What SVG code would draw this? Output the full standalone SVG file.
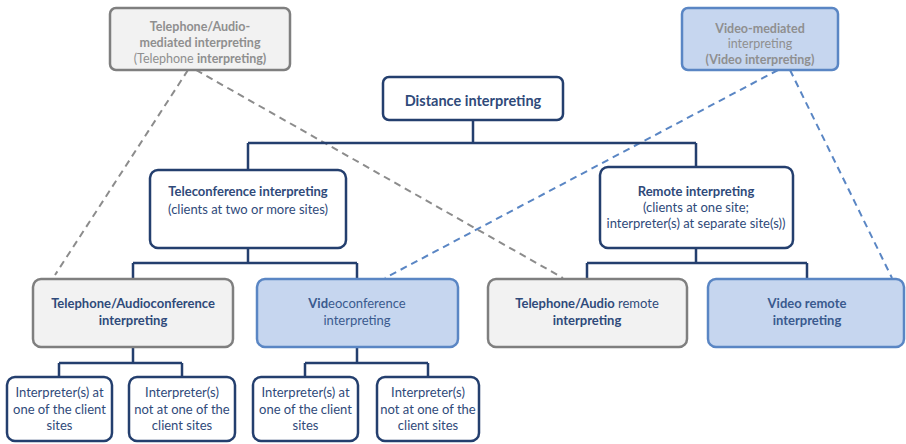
<svg xmlns="http://www.w3.org/2000/svg" width="906" height="444" viewBox="0 0 906 444">
<style>
text{font-family:Lato,"Open Sans","Liberation Sans",sans-serif;text-anchor:middle}
.dk{fill:#fff;stroke:#243f6e;stroke-width:2.5}
.gy{fill:#f2f2f2;stroke:#7f7f7f;stroke-width:2.5}
.bl{fill:#c6d6ef;stroke:#5a86c4;stroke-width:2.5}
.conn{fill:none;stroke:#243f6e;stroke-width:2.5}
.dg{fill:none;stroke:#8c8c8c;stroke-width:2;stroke-dasharray:7 5}
.db{fill:none;stroke:#5a86c4;stroke-width:2;stroke-dasharray:7 5}
.t{fill:#2f4a7a;font-size:13px}
.tb{fill:#3a5a8e;font-size:13px}
.tg{fill:#8f8f8f;font-size:12.5px}
.b{font-weight:bold}
</style>
<rect width="906" height="444" fill="#fff"/>
<g id="dashed">
<line class="dg" x1="188" y1="70" x2="55" y2="275"/>
<line class="dg" x1="196" y1="70" x2="563" y2="278"/>
<line class="db" x1="778" y1="70" x2="385" y2="278"/>
<line class="db" x1="790" y1="70" x2="892" y2="278"/>
</g>
<g id="connectors">
<path class="conn" d="M473 120V143M248 143H696M248 143V170M696 143V167"/>
<path class="conn" d="M248 248V263M133 263H357M133 263V279M357 263V279"/>
<path class="conn" d="M696 248V263M587 263H807M587 263V279M807 263V279"/>
<path class="conn" d="M133 347V363M59 363H182M59 363V377M182 363V377"/>
<path class="conn" d="M357 347V363M305 363H428M305 363V377M428 363V377"/>
</g>
<g id="n-tel-mediated">
<rect class="gy" x="110" y="8" width="180" height="62" rx="6"/>
<text class="tg b" x="200" y="31">Telephone/Audio-</text>
<text class="tg b" x="200" y="47">mediated interpreting</text>
<text class="tg" x="200" y="63">(Telephone <tspan class="b">interpreting)</tspan></text>
</g>
<g id="n-video-mediated">
<rect class="bl" x="682" y="8" width="156" height="62" rx="6"/>
<text class="tg b" x="760" y="33">Video-mediated</text>
<text class="tg" x="760" y="48">interpreting</text>
<text class="tg b" x="760" y="64">(Video interpreting)</text>
</g>
<g id="n-distance">
<rect class="dk" x="383" y="77" width="180" height="43" rx="6"/>
<text class="t b" x="473" y="106" style="font-size:14.5px">Distance interpreting</text>
</g>
<g id="n-teleconf">
<rect class="dk" x="150" y="170" width="196" height="78" rx="8"/>
<text class="t b" x="248" y="196">Teleconference interpreting</text>
<text class="t" x="248" y="214">(clients at two or more sites)</text>
</g>
<g id="n-remote">
<rect class="dk" x="600" y="167" width="193" height="81" rx="8"/>
<text class="t b" x="696" y="196">Remote interpreting</text>
<text class="t" x="696" y="212">(clients at one site;</text>
<text class="t" x="696" y="228">interpreter(s) at separate site(s))</text>
</g>
<g id="n-tel-conf">
<rect class="gy" x="33" y="279" width="200" height="68" rx="8"/>
<text class="t b" x="133" y="308">Telephone/Audioconference</text>
<text class="t b" x="133" y="325">interpreting</text>
</g>
<g id="n-video-conf">
<rect class="bl" x="257" y="279" width="201" height="68" rx="8"/>
<text class="tb" x="357" y="308"><tspan class="b">Vid</tspan>eoconference</text>
<text class="tb" x="357" y="325">interpreting</text>
</g>
<g id="n-tel-remote">
<rect class="gy" x="488" y="279" width="199" height="68" rx="8"/>
<text class="t" x="587" y="308"><tspan class="b">Telephone/Audio</tspan> remote</text>
<text class="t b" x="587" y="325">interpreting</text>
</g>
<g id="n-video-remote">
<rect class="bl" x="708" y="279" width="196" height="68" rx="8"/>
<text class="tb b" x="807" y="308">Video remote</text>
<text class="tb b" x="807" y="325">interpreting</text>
</g>
<g id="n-tc-at">
<rect class="dk" x="7" y="377" width="105" height="64" rx="8"/>
<text class="t" x="59.5" y="397">Interpreter(s) at</text>
<text class="t" x="59.5" y="414">one of the client</text>
<text class="t" x="59.5" y="430">sites</text>
</g>
<g id="n-tc-notat">
<rect class="dk" x="129" y="377" width="106" height="64" rx="8"/>
<text class="t" x="182" y="397">Interpreter(s)</text>
<text class="t" x="182" y="414">not at one of the</text>
<text class="t" x="182" y="430">client sites</text>
</g>
<g id="n-vc-at">
<rect class="dk" x="253" y="377" width="105" height="64" rx="8"/>
<text class="t" x="305.5" y="397">Interpreter(s) at</text>
<text class="t" x="305.5" y="414">one of the client</text>
<text class="t" x="305.5" y="430">sites</text>
</g>
<g id="n-vc-notat">
<rect class="dk" x="377" y="377" width="102" height="64" rx="8"/>
<text class="t" x="428" y="397">Interpreter(s)</text>
<text class="t" x="428" y="414">not at one of the</text>
<text class="t" x="428" y="430">client sites</text>
</g>
</svg>
